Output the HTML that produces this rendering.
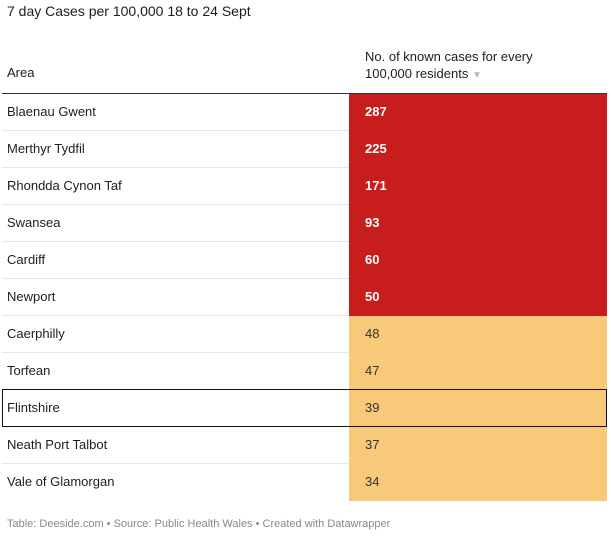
<!DOCTYPE html>
<html><head><meta charset="utf-8">
<style>
body{margin:0;width:611px;height:537px;background:#fff;font-family:"Liberation Sans",sans-serif;color:#1d1d1d;position:relative;overflow:hidden}
.a{position:absolute;white-space:nowrap}
</style></head>
<body>
<div class="a" style="left:7px;top:3px;font-size:14px">7 day Cases per 100,000 18 to 24 Sept</div>
<div class="a" style="left:7px;top:65px;font-size:13px">Area</div>
<div class="a" style="left:365px;top:48px;font-size:13px;line-height:17px">No. of known cases for every<br>100,000 residents <span style="color:#bbb;font-size:10px">▼</span></div>
<div class="a" style="left:2px;top:93px;width:605px;height:1px;background:#333"></div>
<div id="rows"></div>
<div class="a" style="left:7px;top:518px;font-size:11px;color:#888">Table: Deeside.com • Source: Public Health Wales • Created with Datawrapper</div>
<script>
const areas=["Blaenau Gwent","Merthyr Tydfil","Rhondda Cynon Taf","Swansea","Cardiff","Newport","Caerphilly","Torfean","Flintshire","Neath Port Talbot","Vale of Glamorgan"];
const cases=[287,225,171,93,60,50,48,47,39,37,34];
const highlight="Flintshire";
const threshold=50;
const host=document.getElementById('rows');
const top0=94,rowH=37;
areas.forEach((name,i)=>{
  const y=top0+i*rowH;
  const hi=cases[i]>=threshold;
  const cell=document.createElement('div');
  cell.className='a';
  
  
  cell.style.cssText=`left:349px;top:${y}px;width:258px;height:${rowH}px;background:${hi?'#c71e1d':'#f9c97a'}`;
  host.appendChild(cell);
  const val=document.createElement('div');
  val.className='a';
  
  
  val.style.cssText=`left:365px;top:${y+10}px;font-size:13px;color:${hi?'#fff':'#333'};font-weight:${hi?'bold':'normal'}`;
  val.textContent=cases[i];
  host.appendChild(val);
  const lab=document.createElement('div');
  lab.className='a';
  
  
  lab.style.cssText=`left:7px;top:${y+10}px;font-size:13px`;
  lab.textContent=name;
  host.appendChild(lab);
  if(i<areas.length-1){
    const ln=document.createElement('div');
    ln.className='a';
    
    
    ln.style.cssText=`left:2px;top:${y+rowH-1}px;width:347px;height:1px;background:#e6e6e6`;
    host.appendChild(ln);
  }
  if(name===highlight){
    const b=document.createElement('div');
    b.className='a';
    
    
    b.style.cssText=`left:2px;top:${y-1}px;width:603px;height:${rowH-1}px;border:1px solid #111`;
    host.appendChild(b);
  }
});
</script>
</body></html>
